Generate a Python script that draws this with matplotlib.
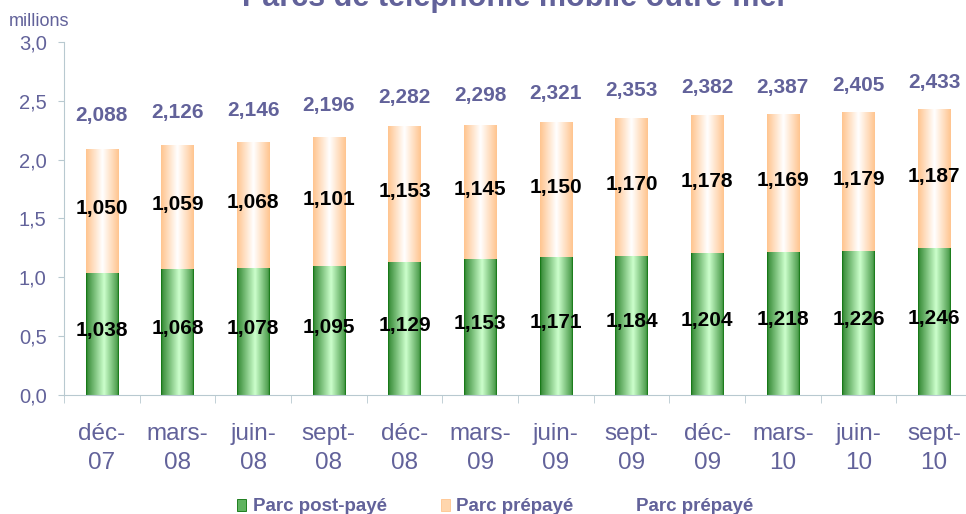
import matplotlib.pyplot as plt
import numpy as np
from matplotlib.colors import LinearSegmentedColormap
from matplotlib.patches import Rectangle

# Données (millions)
periodes = ['déc-\n07', 'mars-\n08', 'juin-\n08', 'sept-\n08', 'déc-\n08', 'mars-\n09',
            'juin-\n09', 'sept-\n09', 'déc-\n09', 'mars-\n10', 'juin-\n10', 'sept-\n10']
post_paye = [1.038, 1.068, 1.078, 1.095, 1.129, 1.153, 1.171, 1.184, 1.204, 1.218, 1.226, 1.246]
prepaye = [1.050, 1.059, 1.068, 1.101, 1.153, 1.145, 1.150, 1.170, 1.178, 1.169, 1.179, 1.187]
totaux = [2.088, 2.126, 2.146, 2.196, 2.282, 2.298, 2.321, 2.353, 2.382, 2.387, 2.405, 2.433]
y_ticks = [0.0, 0.5, 1.0, 1.5, 2.0, 2.5, 3.0]

violet = '#62629a'
gris_axe = '#b8c9d0'
plt.rcParams['font.family'] = ['Liberation Sans', 'DejaVu Sans']


def fr(v, n=3):
    return f"{v:.{n}f}".replace('.', ',')


# dégradés horizontaux des barres
vert = LinearSegmentedColormap.from_list('vert', [(0, '#0a700a'), (0.05, '#3f913f'),
                                                  (0.55, '#ccffcc'), (0.95, '#4f9f4f'),
                                                  (1, '#0a700a')])
peche = LinearSegmentedColormap.from_list('peche', [(0, '#ffc48e'), (0.5, '#ffffff'),
                                                    (1, '#ffc48e')])
grad = np.linspace(0, 1, 256).reshape(1, -1)

fig = plt.figure(figsize=(9.66, 5.14), dpi=100)
ax = fig.add_axes([64 / 966, 119 / 514, 908 / 966, 353 / 514])

x = np.arange(len(periodes)) + 0.5
w = 0.43
b1 = ax.bar(x, post_paye, width=w, color='none', edgecolor='none')
b2 = ax.bar(x, prepaye, width=w, bottom=post_paye, color='none', edgecolor='none')

for bars, cmap in [(b1, vert), (b2, peche)]:
    for rect in bars:
        x0, y0 = rect.get_x(), rect.get_y()
        im = ax.imshow(grad, cmap=cmap, aspect='auto', zorder=2,
                       extent=[x0, x0 + rect.get_width(), y0, y0 + rect.get_height()])
        im.set_clip_path(rect)

for xi, a, b in zip(x, post_paye, prepaye):
    ax.text(xi, a / 2 + 0.03, fr(a), ha='center', va='center', fontsize=15,
            fontweight='bold', color='black', zorder=5)
    ax.text(xi, a + b / 2 + 0.02, fr(b), ha='center', va='center', fontsize=15,
            fontweight='bold', color='black', zorder=5)

ax.set_xlim(0, 12)
ax.set_ylim(0, 3)

# série "Parc prépayé" (total) sur axe secondaire, ligne invisible
ax2 = ax.twinx()
ax2.set_ylim(-0.84, 2.86)
ax2.plot(x, totaux, color='none')
for xi, t in zip(x, totaux):
    ax2.text(xi, t, fr(t), ha='center', va='center', fontsize=15,
             fontweight='bold', color=violet)
ax2.axis('off')

ax.set_yticks(y_ticks)
ax.set_yticklabels([fr(v, 1) for v in y_ticks])
ax.set_xticks(x)
ax.set_xticklabels(periodes, linespacing=1.45)
ax.set_xticks(np.arange(0, 13), minor=True)
ax.tick_params(axis='x', which='major', length=0, pad=20, labelsize=17.5, labelcolor=violet)
ax.tick_params(axis='x', which='minor', length=6, color=gris_axe)
ax.tick_params(axis='y', length=4.5, color=gris_axe, pad=8, labelsize=14.5, labelcolor=violet)

for s in ['top', 'right']:
    ax.spines[s].set_visible(False)
for s in ['left', 'bottom']:
    ax.spines[s].set_color(gris_axe)

fig.text(9 / 966, 1 - 26 / 514, 'millions', ha='left', va='baseline', fontsize=13, color=violet)
# titre coupé en haut comme sur l'original
fig.text(242 / 966, 1 - 6 / 514, 'Parcs de téléphonie mobile outre-mer', ha='left',
         va='baseline', fontsize=22, fontweight='bold', color=violet)

# légende manuelle
yb = 3 / 514
fig.patches.append(Rectangle((237 / 966, yb), 9 / 966, 12 / 514, transform=fig.transFigure,
                             facecolor='#5fb35f', edgecolor='#0a700a', lw=0.6))
fig.text(253 / 966, yb, 'Parc post-payé', fontsize=13.5, fontweight='bold', color=violet)
fig.patches.append(Rectangle((441 / 966, yb), 9 / 966, 12 / 514, transform=fig.transFigure,
                             facecolor='#ffd6ad', edgecolor='#ffc48e', lw=0.6))
fig.text(456 / 966, yb, 'Parc prépayé', fontsize=13.5, fontweight='bold', color=violet)
fig.text(636 / 966, yb, 'Parc prépayé', fontsize=13.5, fontweight='bold', color=violet)

fig.savefig('out.png', dpi=100)
